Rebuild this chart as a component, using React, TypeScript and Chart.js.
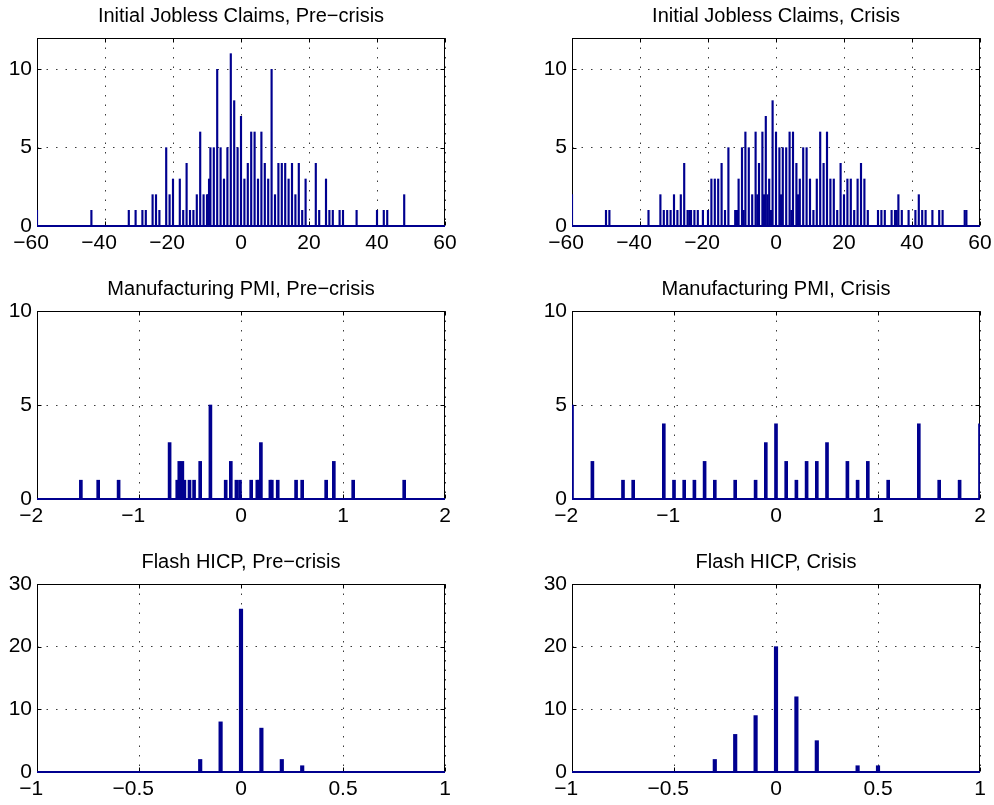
import React, { useEffect, useRef } from 'react';
import { Chart, registerables } from 'chart.js';

Chart.register(...registerables);

// ---------------- data ----------------
const claimsPreX = [-60, -44, -33, -31, -29, -28, -26, -25, -24, -22, -21, -20, -18, -17, -16, -15, -14, -13, -12, -11, -10, -9.7, -9.4, -9, -8, -7, -6, -5, -4, -3, -2, -1, 0, 1, 2, 3, 4, 5, 6, 7, 8, 9, 10, 11, 12, 13, 14, 15, 16, 17, 18, 19, 22, 23, 25, 26, 27, 29, 30, 34, 40, 42, 43, 48];
const claimsPreY = [1, 1, 1, 1, 1, 1, 2, 2, 1, 5, 2, 3, 3, 1, 4, 1, 1, 2, 6, 2, 2, 2, 3, 5, 5, 10, 5, 3, 5, 11, 8, 5, 7, 3, 4, 6, 6, 3, 6, 4, 3, 10, 2, 4, 4, 4, 3, 4, 2, 4, 1, 3, 4, 1, 3, 1, 1, 1, 1, 1, 1, 1, 1, 2];

const claimsCrisisX = [-60, -50, -49, -37.5, -34, -33, -32, -31, -30, -29, -28, -27, -26, -25.5, -25, -24, -23, -21.5, -20, -19, -18, -17, -16, -15, -14, -12, -11.5, -11, -10, -9.5, -9, -8, -7, -6, -5.5, -5, -4, -3.5, -3, -2.5, -2, -1.5, -1, 0, 1, 1.5, 2, 3, 4, 4.5, 5, 6, 6.5, 7, 8, 9, 10, 11, 12, 13, 14, 15, 16, 17, 18, 19, 20, 21, 22, 23, 24, 25, 26, 27, 30, 31, 32, 34, 35, 35.5, 36, 37, 39, 41, 42, 43, 44, 46, 48, 49, 55.5, 56];
const claimsCrisisY = [2, 1, 1, 1, 2, 1, 1, 1, 2, 1, 2, 4, 1, 1, 1, 1, 1, 1, 1, 3, 3, 3, 4, 1, 5, 1, 1, 3, 5, 1, 6, 5, 2, 6, 2, 4, 6, 2, 7, 2, 3, 1, 8, 6, 5, 2, 5, 5, 6, 1, 6, 4, 2, 3, 5, 5, 3, 1, 3, 6, 4, 6, 3, 3, 1, 4, 2, 3, 3, 1, 3, 4, 3, 1, 1, 1, 1, 1, 1, 1, 2, 1, 1, 1, 2, 1, 1, 1, 1, 1, 1, 1];

const pmiPreX = [-1.57, -1.4, -1.2, -0.7, -0.625, -0.605, -0.575, -0.555, -0.505, -0.46, -0.4, -0.3, -0.15, -0.1, -0.045, -0.01, 0.1, 0.16, 0.175, 0.195, 0.288, 0.302, 0.36, 0.54, 0.6, 0.835, 0.91, 1.1, 1.6];
const pmiPreY = [1, 1, 1, 3, 1, 2, 2, 1, 1, 1, 2, 5, 1, 2, 1, 1, 1, 1, 1, 3, 1, 1, 1, 1, 1, 1, 2, 1, 1];

const pmiCrisisX = [-2, -1.8, -1.5, -1.4, -1.1, -1, -0.9, -0.8, -0.7, -0.6, -0.4, -0.2, -0.1, 0, 0.1, 0.2, 0.3, 0.4, 0.5, 0.7, 0.8, 0.9, 1.1, 1.4, 1.6, 1.8, 2];
const pmiCrisisY = [5, 2, 1, 1, 4, 1, 1, 1, 2, 1, 1, 1, 3, 4, 2, 1, 2, 2, 3, 2, 1, 2, 1, 4, 1, 1, 4];

const hicpPreX = [-0.2, -0.1, 0, 0.1, 0.2, 0.3];
const hicpPreY = [2, 8, 26, 7, 2, 1];

const hicpCrisisX = [-0.3, -0.2, -0.1, 0, 0.1, 0.2, 0.4, 0.5];
const hicpCrisisY = [2, 6, 9, 20, 12, 5, 1, 1];

// ticks
const claimsXTicks = [-60, -40, -20, 0, 20, 40, 60];
const claimsXTickLabels = ['\u221260', '\u221240', '\u221220', '0', '20', '40', '60'];
const pmiXTicks = [-2, -1, 0, 1, 2];
const pmiXTickLabels = ['\u22122', '\u22121', '0', '1', '2'];
const hicpXTicks = [-1, -0.5, 0, 0.5, 1];
const hicpXTickLabels = ['\u22121', '\u22120.5', '0', '0.5', '1'];
const countYTicks10 = [0, 5, 10];
const countYTickLabels10 = ['0', '5', '10'];
const countYTicks30 = [0, 10, 20, 30];
const countYTickLabels30 = ['0', '10', '20', '30'];

const titles = [
  'Initial Jobless Claims, Pre\u2212crisis',
  'Initial Jobless Claims, Crisis',
  'Manufacturing PMI, Pre\u2212crisis',
  'Manufacturing PMI, Crisis',
  'Flash HICP, Pre\u2212crisis',
  'Flash HICP, Crisis',
];

// ---------------- styling / layout ----------------
const BLUE = '#00008f';
const FONT = '"Liberation Sans", Arial, Helvetica, sans-serif';
const TICK_SIZE = 21;
const TITLE_SIZE = 20;
const PAD_L = 50;
const PAD_T = 40;
const PAD_R = 24;
const PAD_B = 40;
const PLOT_W = 408;
const PLOT_H = 188;
const COL_X = [37, 572];
const ROW_Y = [38, 311, 584];

type PanelDef = {
  title: string;
  xs: number[];
  ys: number[];
  xMin: number;
  xMax: number;
  xTicks: number[];
  xLabels: string[];
  yMax: number;
  yTicks: number[];
  yLabels: string[];
  barW: number;
  col: number;
  row: number;
};

const panels: PanelDef[] = [
  { title: titles[0], xs: claimsPreX, ys: claimsPreY, xMin: -60, xMax: 60, xTicks: claimsXTicks, xLabels: claimsXTickLabels, yMax: 12, yTicks: countYTicks10, yLabels: countYTickLabels10, barW: 1.5, col: 0, row: 0 },
  { title: titles[1], xs: claimsCrisisX, ys: claimsCrisisY, xMin: -60, xMax: 60, xTicks: claimsXTicks, xLabels: claimsXTickLabels, yMax: 12, yTicks: countYTicks10, yLabels: countYTickLabels10, barW: 1.5, col: 1, row: 0 },
  { title: titles[2], xs: pmiPreX, ys: pmiPreY, xMin: -2, xMax: 2, xTicks: pmiXTicks, xLabels: pmiXTickLabels, yMax: 10, yTicks: countYTicks10, yLabels: countYTickLabels10, barW: 3, col: 0, row: 1 },
  { title: titles[3], xs: pmiCrisisX, ys: pmiCrisisY, xMin: -2, xMax: 2, xTicks: pmiXTicks, xLabels: pmiXTickLabels, yMax: 10, yTicks: countYTicks10, yLabels: countYTickLabels10, barW: 3, col: 1, row: 1 },
  { title: titles[4], xs: hicpPreX, ys: hicpPreY, xMin: -1, xMax: 1, xTicks: hicpXTicks, xLabels: hicpXTickLabels, yMax: 30, yTicks: countYTicks30, yLabels: countYTickLabels30, barW: 3.5, col: 0, row: 2 },
  { title: titles[5], xs: hicpCrisisX, ys: hicpCrisisY, xMin: -1, xMax: 1, xTicks: hicpXTicks, xLabels: hicpXTickLabels, yMax: 30, yTicks: countYTicks30, yLabels: countYTickLabels30, barW: 3.5, col: 1, row: 2 },
];

const boxPlugin = {
  id: 'matlabBox',
  beforeDatasetsDraw(chart: any) {
    const { ctx, chartArea: a, scales } = chart;
    ctx.save();
    ctx.strokeStyle = '#000';
    ctx.lineWidth = 1;
    ctx.setLineDash([]);
    const l = Math.round(a.left) + 0.5;
    const t = Math.round(a.top) + 0.5;
    const r = Math.round(a.right) - 0.5;
    const b = Math.round(a.bottom) - 0.5;
    ctx.strokeRect(l, t, r - l, b - t);
    const tl = 4;
    ctx.beginPath();
    scales.x.ticks.forEach((tk: any) => {
      const x = Math.round(scales.x.getPixelForValue(tk.value)) + 0.5;
      ctx.moveTo(x, b);
      ctx.lineTo(x, b - tl);
      ctx.moveTo(x, t);
      ctx.lineTo(x, t + tl);
    });
    scales.y.ticks.forEach((tk: any) => {
      const y = Math.round(scales.y.getPixelForValue(tk.value)) + 0.5;
      ctx.moveTo(l, y);
      ctx.lineTo(l + tl, y);
      ctx.moveTo(r, y);
      ctx.lineTo(r - tl, y);
    });
    ctx.stroke();
    ctx.restore();
  },
  afterDraw(chart: any, _args: any, opts: any) {
    const { ctx, chartArea: a } = chart;
    ctx.save();
    ctx.fillStyle = '#000';
    ctx.font = `${TITLE_SIZE}px ${FONT}`;
    ctx.textAlign = 'center';
    ctx.textBaseline = 'alphabetic';
    ctx.fillText(opts.title, (a.left + a.right) / 2, a.top - 16);
    ctx.restore();
  },
};

// negative labels sit slightly left of their tick in the original (MATLAB) rendering
const shiftNegative = (s: string) => (s.startsWith('\u2212') ? s + '  ' : s);

function Panel({ p }: { p: PanelDef }) {
  const ref = useRef<HTMLCanvasElement>(null);
  const width = PAD_L + PLOT_W + PAD_R;
  const height = PAD_T + PLOT_H + PAD_B;
  useEffect(() => {
    const grid = {
      display: true,
      drawOnChartArea: true,
      drawTicks: false,
      color: '#3a3a3a',
      lineWidth: 1,
      offset: false,
    };
    const chart = new Chart(ref.current as HTMLCanvasElement, {
      type: 'bar',
      data: {
        datasets: [
          {
            type: 'line',
            data: [
              { x: p.xMin, y: 0 },
              { x: p.xMax, y: 0 },
            ],
            borderColor: BLUE,
            borderWidth: 2,
            pointRadius: 0,
            tension: 0,
            order: 0,
            clip: 2,
          } as any,
          {
            type: 'bar',
            data: p.xs.map((x, i) => ({ x, y: p.ys[i] })),
            backgroundColor: BLUE,
            borderWidth: 0,
            barThickness: p.barW,
            order: 1,
            clip: 0,
          } as any,
        ],
      },
      plugins: [boxPlugin],
      options: {
        responsive: false,
        animation: false,
        events: [],
        layout: { padding: { left: 0, top: PAD_T, right: PAD_R, bottom: 0 } },
        plugins: {
          legend: { display: false },
          tooltip: { enabled: false },
          matlabBox: { title: p.title },
        } as any,
        scales: {
          x: {
            type: 'linear',
            min: p.xMin,
            max: p.xMax,
            offset: false,
            grid,
            border: { display: false, dash: [1.5, 8] },
            ticks: {
              color: '#000',
              font: { family: FONT, size: TICK_SIZE },
              padding: 5,
              maxRotation: 0,
              autoSkip: false,
              callback: (_v: any, i: number) => shiftNegative(p.xLabels[i]),
            },
            afterBuildTicks: (s: any) => {
              s.ticks = p.xTicks.map((v) => ({ value: v }));
            },
            afterFit: (s: any) => {
              s.height = PAD_B;
            },
          },
          y: {
            type: 'linear',
            min: 0,
            max: p.yMax,
            grid,
            border: { display: false, dash: [1.5, 8] },
            ticks: {
              color: '#000',
              font: { family: FONT, size: TICK_SIZE },
              padding: 5,
              callback: (_v: any, i: number) => p.yLabels[i],
            },
            afterBuildTicks: (s: any) => {
              s.ticks = p.yTicks.map((v) => ({ value: v }));
            },
            afterFit: (s: any) => {
              s.width = PAD_L;
            },
          },
        },
      } as any,
    });
    return () => chart.destroy();
  }, []);
  return (
    <canvas
      ref={ref}
      width={width}
      height={height}
      style={{
        position: 'absolute',
        left: COL_X[p.col] - PAD_L,
        top: ROW_Y[p.row] - PAD_T,
        width,
        height,
      }}
    />
  );
}

export default function App() {
  return (
    <div
      style={{
        position: 'absolute',
        left: 0,
        top: 0,
        width: 994,
        height: 805,
        overflow: 'hidden',
        background: '#fff',
      }}
    >
      {panels.map((p, i) => (
        <Panel key={i} p={p} />
      ))}
    </div>
  );
}
